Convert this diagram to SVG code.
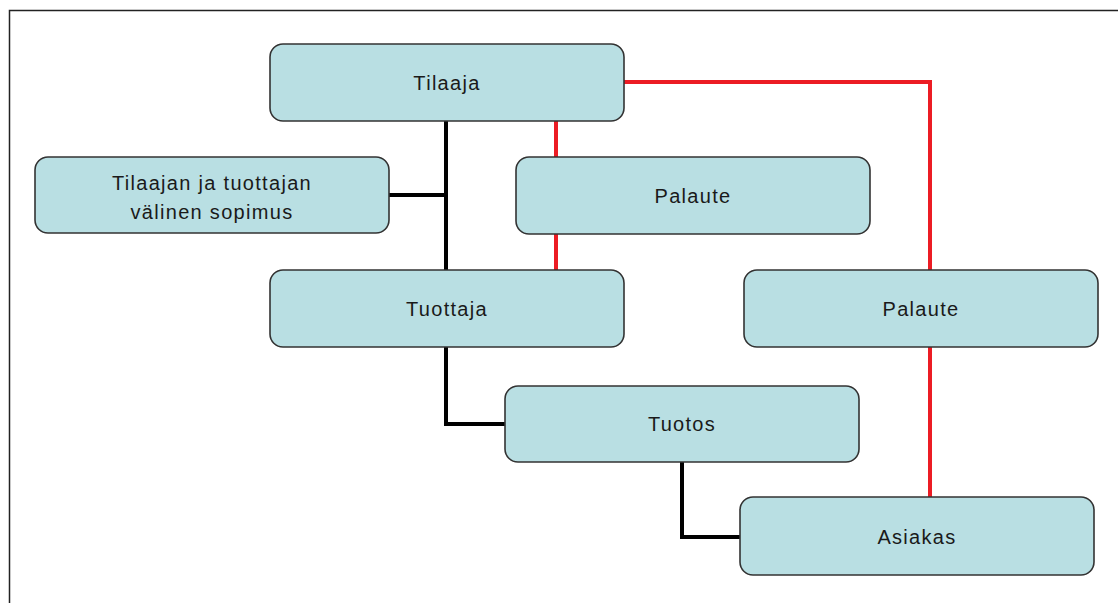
<svg xmlns="http://www.w3.org/2000/svg" width="1118" height="603" viewBox="0 0 1118 603">
  <style>
    .box { fill: #b9dfe3; stroke: #333333; stroke-width: 1.6; }
    .lbl { font-family: "Liberation Sans", Arial, sans-serif; font-size: 20px; fill: #1a1a1a; text-anchor: middle; letter-spacing: 1.3px; }
    .blk { fill: none; stroke: #000000; stroke-width: 4; }
    .red { fill: none; stroke: #ec1c24; stroke-width: 4; }
  </style>
  <rect x="0" y="0" width="1118" height="603" fill="#ffffff"/>
  <!-- outer frame: top and left edges -->
  <path d="M9.5 603 V10.5 H1118" fill="none" stroke="#222222" stroke-width="1.5"/>

  <g id="connectors">
    <path class="blk" d="M446 121 V270"/>
    <path class="blk" d="M389 195 H446"/>
    <path class="blk" d="M446 347 V424 H505"/>
    <path class="blk" d="M682 462 V537 H740"/>
    <path class="red" d="M556 121 V157"/>
    <path class="red" d="M556 234 V270"/>
    <path class="red" d="M624 82 H930 V270"/>
    <path class="red" d="M930 347 V497"/>
  </g>

  <g id="tilaaja">
    <rect class="box" x="270" y="44" width="354" height="77" rx="13"/>
    <text class="lbl" x="447" y="90">Tilaaja</text>
  </g>
  <g id="sopimus">
    <rect class="box" x="35" y="157" width="354" height="76" rx="13"/>
    <text class="lbl" x="212" y="190">Tilaajan ja tuottajan</text>
    <text class="lbl" x="212" y="219">välinen sopimus</text>
  </g>
  <g id="palaute1">
    <rect class="box" x="516" y="157" width="354" height="77" rx="13"/>
    <text class="lbl" x="693" y="203">Palaute</text>
  </g>
  <g id="tuottaja">
    <rect class="box" x="270" y="270" width="354" height="77" rx="13"/>
    <text class="lbl" x="447" y="316">Tuottaja</text>
  </g>
  <g id="palaute2">
    <rect class="box" x="744" y="270" width="354" height="77" rx="13"/>
    <text class="lbl" x="921" y="316">Palaute</text>
  </g>
  <g id="tuotos">
    <rect class="box" x="505" y="386" width="354" height="76" rx="13"/>
    <text class="lbl" x="682" y="431">Tuotos</text>
  </g>
  <g id="asiakas">
    <rect class="box" x="740" y="497" width="354" height="78" rx="13"/>
    <text class="lbl" x="917" y="544">Asiakas</text>
  </g>
</svg>
